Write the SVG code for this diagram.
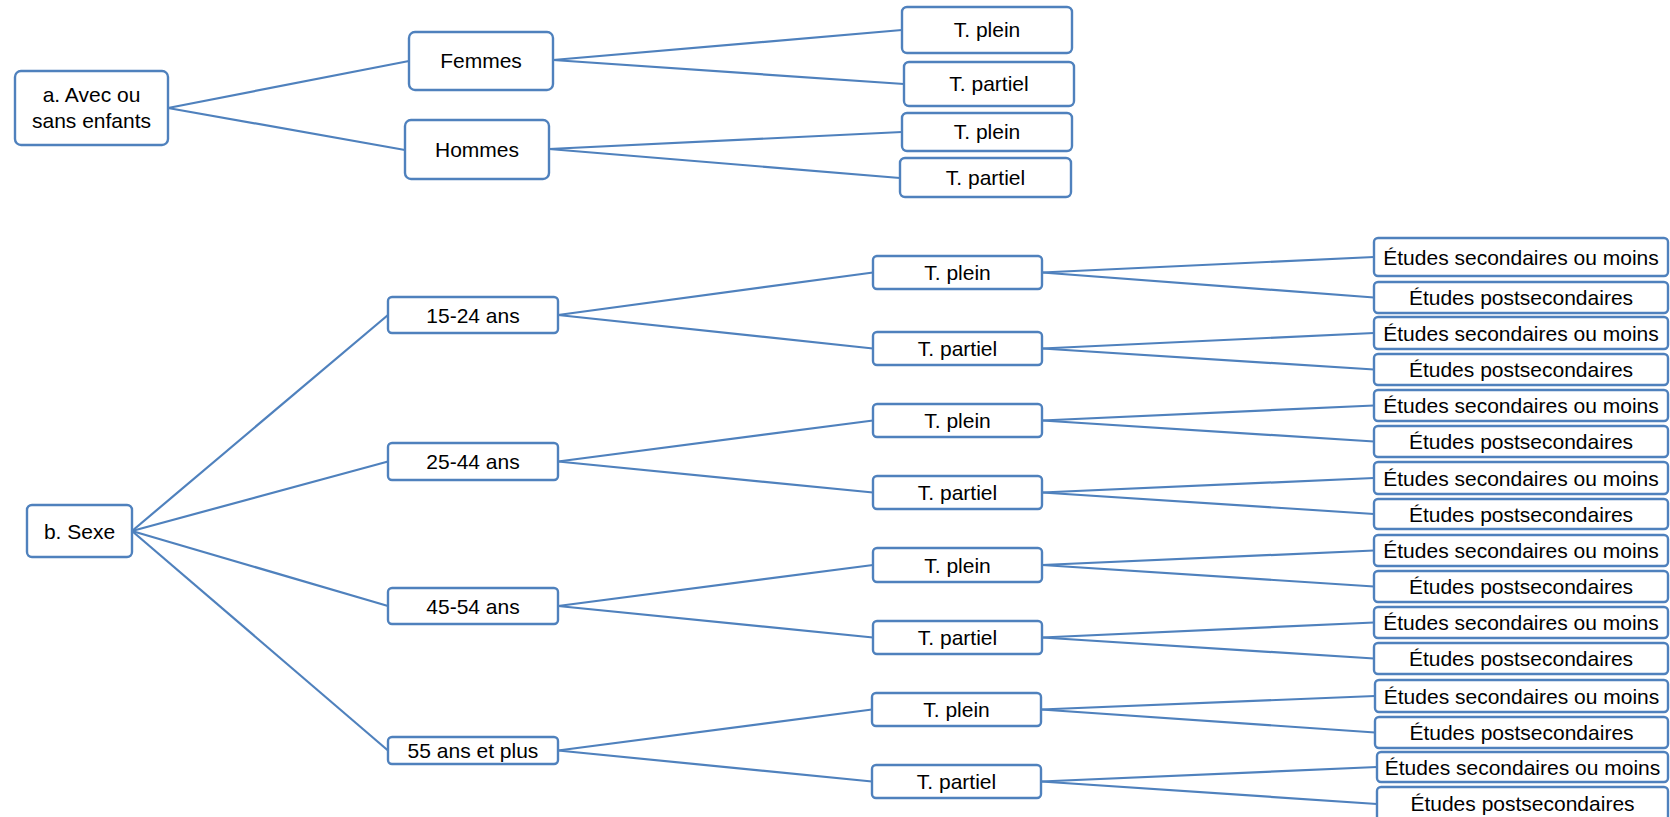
<svg xmlns="http://www.w3.org/2000/svg" width="1670" height="817" viewBox="0 0 1670 817">
<style>
rect{fill:#fff;stroke:#4F81BD;stroke-width:2.4}
text{font-family:"Liberation Sans",Arial,sans-serif;font-size:21px;fill:#000;text-anchor:middle}
.c line{stroke:#4F81BD;stroke-width:2.2}
</style>
<rect x="0" y="0" width="1670" height="817" style="fill:#fff;stroke:none"/>
<g class="c" id="connectors">
<line x1="168" y1="108" x2="409" y2="61"/>
<line x1="168" y1="108" x2="405" y2="150"/>
<line x1="553" y1="60" x2="902" y2="30"/>
<line x1="553" y1="60" x2="904" y2="84"/>
<line x1="549" y1="149" x2="902" y2="132"/>
<line x1="549" y1="149" x2="900" y2="178"/>
<line x1="132" y1="531" x2="388" y2="315"/>
<line x1="132" y1="531" x2="388" y2="461.5"/>
<line x1="132" y1="531" x2="388" y2="606"/>
<line x1="132" y1="531" x2="388" y2="750.5"/>
<line x1="558" y1="315" x2="873" y2="272.5"/>
<line x1="558" y1="315" x2="873" y2="348.5"/>
<line x1="558" y1="461.5" x2="873" y2="420.5"/>
<line x1="558" y1="461.5" x2="873" y2="492.5"/>
<line x1="558" y1="606" x2="873" y2="565"/>
<line x1="558" y1="606" x2="873" y2="637.5"/>
<line x1="558" y1="750.5" x2="872" y2="709.5"/>
<line x1="558" y1="750.5" x2="872" y2="781.5"/>
<line x1="1042" y1="272.5" x2="1374" y2="257"/>
<line x1="1042" y1="272.5" x2="1374" y2="297.5"/>
<line x1="1042" y1="348.5" x2="1374" y2="333"/>
<line x1="1042" y1="348.5" x2="1374" y2="369.5"/>
<line x1="1042" y1="420.5" x2="1374" y2="405.5"/>
<line x1="1042" y1="420.5" x2="1374" y2="441.5"/>
<line x1="1042" y1="492.5" x2="1374" y2="478"/>
<line x1="1042" y1="492.5" x2="1374" y2="514"/>
<line x1="1042" y1="565" x2="1374" y2="550.5"/>
<line x1="1042" y1="565" x2="1374" y2="586.5"/>
<line x1="1042" y1="637.5" x2="1374" y2="622.5"/>
<line x1="1042" y1="637.5" x2="1374" y2="658.5"/>
<line x1="1041" y1="709.5" x2="1375" y2="696"/>
<line x1="1041" y1="709.5" x2="1375" y2="732.5"/>
<line x1="1041" y1="781.5" x2="1377" y2="767"/>
<line x1="1041" y1="781.5" x2="1377" y2="804"/>
</g>
<g id="n-a"><rect x="15" y="71" width="153" height="74" rx="6"/><text x="91.5" y="102">a. Avec ou</text><text x="91.5" y="128">sans enfants</text></g>
<g id="n-femmes"><rect x="409" y="32" width="144" height="58" rx="6"/><text x="481" y="68">Femmes</text></g>
<g id="n-hommes"><rect x="405" y="120" width="144" height="59" rx="6"/><text x="477" y="157">Hommes</text></g>
<g id="n-f-plein"><rect x="902" y="7" width="170" height="46" rx="5"/><text x="987" y="37">T. plein</text></g>
<g id="n-f-partiel"><rect x="904" y="62" width="170" height="44" rx="5"/><text x="989" y="91">T. partiel</text></g>
<g id="n-h-plein"><rect x="902" y="113" width="170" height="38" rx="5"/><text x="987" y="139">T. plein</text></g>
<g id="n-h-partiel"><rect x="900" y="158" width="171" height="39" rx="5"/><text x="985.5" y="185">T. partiel</text></g>
<g id="n-b"><rect x="27" y="505" width="105" height="52" rx="5"/><text x="79.5" y="538.5">b. Sexe</text></g>
<g id="n-age1"><rect x="388" y="297" width="170" height="36" rx="4"/><text x="473" y="322.5">15-24 ans</text></g>
<g id="n-age2"><rect x="388" y="443" width="170" height="37" rx="4"/><text x="473" y="469">25-44 ans</text></g>
<g id="n-age3"><rect x="388" y="588" width="170" height="36" rx="4"/><text x="473" y="613.5">45-54 ans</text></g>
<g id="n-age4"><rect x="388" y="737" width="170" height="27" rx="4"/><text x="473" y="757.5">55 ans et plus</text></g>
<g id="n-t1"><rect x="873" y="256" width="169" height="33" rx="4"/><text x="957.5" y="280">T. plein</text></g>
<g id="n-t2"><rect x="873" y="332" width="169" height="33" rx="4"/><text x="957.5" y="356">T. partiel</text></g>
<g id="n-t3"><rect x="873" y="404" width="169" height="33" rx="4"/><text x="957.5" y="428">T. plein</text></g>
<g id="n-t4"><rect x="873" y="476" width="169" height="33" rx="4"/><text x="957.5" y="500">T. partiel</text></g>
<g id="n-t5"><rect x="873" y="548" width="169" height="34" rx="4"/><text x="957.5" y="572.5">T. plein</text></g>
<g id="n-t6"><rect x="873" y="621" width="169" height="33" rx="4"/><text x="957.5" y="645">T. partiel</text></g>
<g id="n-t7"><rect x="872" y="693" width="169" height="33" rx="4"/><text x="956.5" y="717">T. plein</text></g>
<g id="n-t8"><rect x="872" y="765" width="169" height="33" rx="4"/><text x="956.5" y="789">T. partiel</text></g>
<g id="n-e1"><rect x="1374" y="238" width="294" height="38" rx="4"/><text x="1521" y="264.5">Études secondaires ou moins</text></g>
<g id="n-e2"><rect x="1374" y="282" width="294" height="31" rx="4"/><text x="1521" y="305">Études postsecondaires</text></g>
<g id="n-e3"><rect x="1374" y="317" width="294" height="32" rx="4"/><text x="1521" y="340.5">Études secondaires ou moins</text></g>
<g id="n-e4"><rect x="1374" y="354" width="294" height="31" rx="4"/><text x="1521" y="377">Études postsecondaires</text></g>
<g id="n-e5"><rect x="1374" y="390" width="294" height="31" rx="4"/><text x="1521" y="413">Études secondaires ou moins</text></g>
<g id="n-e6"><rect x="1374" y="426" width="294" height="31" rx="4"/><text x="1521" y="449">Études postsecondaires</text></g>
<g id="n-e7"><rect x="1374" y="462" width="294" height="32" rx="4"/><text x="1521" y="485.5">Études secondaires ou moins</text></g>
<g id="n-e8"><rect x="1374" y="499" width="294" height="30" rx="4"/><text x="1521" y="521.5">Études postsecondaires</text></g>
<g id="n-e9"><rect x="1374" y="535" width="294" height="31" rx="4"/><text x="1521" y="558">Études secondaires ou moins</text></g>
<g id="n-e10"><rect x="1374" y="571" width="294" height="31" rx="4"/><text x="1521" y="594">Études postsecondaires</text></g>
<g id="n-e11"><rect x="1374" y="607" width="294" height="31" rx="4"/><text x="1521" y="630">Études secondaires ou moins</text></g>
<g id="n-e12"><rect x="1374" y="643" width="294" height="31" rx="4"/><text x="1521" y="666">Études postsecondaires</text></g>
<g id="n-e13"><rect x="1375" y="680" width="293" height="32" rx="4"/><text x="1521.5" y="703.5">Études secondaires ou moins</text></g>
<g id="n-e14"><rect x="1375" y="717" width="293" height="31" rx="4"/><text x="1521.5" y="740">Études postsecondaires</text></g>
<g id="n-e15"><rect x="1377" y="752" width="291" height="30" rx="4"/><text x="1522.5" y="774.5">Études secondaires ou moins</text></g>
<g id="n-e16"><rect x="1377" y="787" width="291" height="36" rx="4"/><text x="1522.5" y="811">Études postsecondaires</text></g>
</svg>
